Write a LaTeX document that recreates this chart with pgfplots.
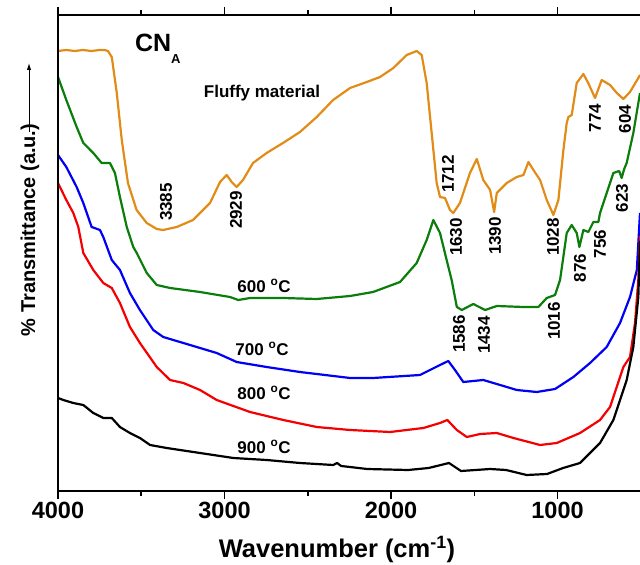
\documentclass[border=0pt]{standalone}
\usepackage{pgfplots}
\pgfplotsset{compat=1.18}
\usepackage{fontspec}
\setmainfont{Liberation Sans}
\usetikzlibrary{arrows.meta}
\definecolor{corange}{RGB}{226,140,24}
\definecolor{cgreen}{RGB}{10,125,10}
\definecolor{cblue}{RGB}{0,0,245}
\definecolor{cred}{RGB}{245,0,0}
\newcommand{\lab}{\fontsize{17bp}{17bp}\selectfont\bfseries}
\begin{document}
\begin{tikzpicture}
\useasboundingbox (0,0) rectangle (640bp,565bp);
\begin{axis}[
  at={(58bp,74bp)}, anchor=south west,
  width=582bp, height=476bp, scale only axis,
  xmin=505, xmax=4000, ymin=0, ymax=476,
  x dir=reverse,
  clip=false,
  axis line style={draw=none},
  xtick={1000,2000,3000,4000},
  minor xtick={1500,2500,3500},
  ytick=\empty,
  tick align=outside,
  major tick length=8bp, minor tick length=5bp,
  every tick/.style={line width=1.6bp, black},
  x tick label style={font=\fontsize{23.5bp}{23.5bp}\selectfont\bfseries},
  /pgf/number format/assume math mode=true,
  /pgf/number format/set thousands separator={},
  every axis plot/.append style={line width=2.2bp, line join=round, no markers},
]
% Fluffy material (orange)
\addplot[corange] coordinates {
(4000,440)(3950,441)(3900,440)(3850,441)(3800,440)(3750,441)(3720,441)(3700,440)(3677,434)(3647,398)(3617,351)(3580,308)(3528,281)(3467,268)(3407,262)(3369,261)(3287,264)(3189,271)(3087,288)(3027,309)(2987,316)(2957,309)(2927,304)(2889,311)(2829,328)(2747,338)(2649,348)(2547,359)(2446,374)(2348,391)(2246,403)(2146,409)(2066,414)(1986,423)(1906,436)(1846,440)(1816,436)(1786,408)(1756,358)(1726,308)(1706,294)(1676,293)(1646,281)(1626,278)(1586,288)(1526,318)(1485,332)(1446,311)(1405,301)(1381,279)(1365,298)(1305,308)(1245,314)(1205,316)(1175,329)(1145,321)(1105,311)(1065,291)(1025,276)(995,291)(965,341)(945,368)(935,374)(915,376)(885,408)(845,417)(816,408)(775,393)(735,411)(685,406)(644,398)(605,392)(565,399)(515,413)(505,416)
};
% 600 C (green)
\addplot[cgreen] coordinates {
(4000,414)(3950,391)(3888,364)(3848,348)(3788,338)(3738,328)(3688,328)(3658,318)(3628,294)(3587,264)(3548,244)(3527,238)(3467,218)(3407,206)(3327,203)(3147,199)(2967,194)(2917,191)(2847,193)(2649,193)(2446,192)(2246,195)(2108,199)(1946,209)(1846,228)(1786,251)(1746,271)(1706,258)(1666,231)(1636,211)(1605,184)(1575,181)(1506,187)(1435,181)(1365,185)(1205,184)(1115,184)(1065,193)(1015,196)(985,211)(945,258)(915,266)(885,258)(869,244)(845,261)(815,259)(785,269)(755,269)(745,278)(705,298)(665,318)(630,320)(615,313)(600,322)(585,328)(545,358)(505,398)
};
% 700 C (blue)
\addplot[cblue] coordinates {
(4000,336)(3950,324)(3888,304)(3848,288)(3798,264)(3748,261)(3728,254)(3677,231)(3628,221)(3568,198)(3508,181)(3428,161)(3368,154)(3207,146)(3047,138)(2927,129)(2747,124)(2547,119)(2246,113)(2108,113)(1826,116)(1706,126)(1656,130)(1616,121)(1566,109)(1446,111)(1345,106)(1245,101)(1125,99)(1015,102)(905,114)(805,128)(705,144)(625,168)(565,194)(524,221)(505,278)
};
% 800 C (red)
\addplot[cred] coordinates {
(4000,308)(3950,291)(3908,278)(3878,264)(3848,238)(3788,221)(3728,208)(3677,203)(3628,188)(3568,164)(3508,148)(3407,124)(3327,111)(3247,108)(3147,101)(3047,91)(2847,79)(2647,71)(2446,64)(2246,61)(2006,59)(1806,63)(1706,68)(1662,71)(1605,61)(1545,54)(1465,57)(1365,58)(1265,53)(1105,46)(1005,48)(865,58)(745,71)(685,84)(605,124)(565,134)(535,168)(515,211)(505,255)
};
% 900 C (black)
\addplot[black] coordinates {
(4000,93)(3968,91)(3908,88)(3848,86)(3788,78)(3728,73)(3677,73)(3628,64)(3568,58)(3508,53)(3447,46)(3347,43)(3147,38)(2947,33)(2747,31)(2547,28)(2347,26)(2324,28)(2300,25)(2246,24)(2144,22)(1898,21)(1774,23)(1652,28)(1580,20)(1405,22)(1309,21)(1186,16)(1063,17)(967,23)(865,28)(745,48)(665,71)(585,111)(545,144)(515,194)(505,250)
};
% frame (top, left, bottom)
\draw[line width=2bp, line cap=rect] (axis cs:505,476) -- (axis cs:4000,476) -- (axis cs:4000,0) -- (axis cs:505,0);
% labels
\node[anchor=base west, font=\fontsize{25bp}{25bp}\selectfont\bfseries, inner sep=0] at (axis cs:3538,439) {CN\raisebox{-0.45em}{\fontsize{13bp}{13bp}\selectfont A}};
\node[font=\lab] at (axis cs:2775,398) {Fluffy material};
\node[font=\lab, rotate=90] at (axis cs:3351,289) {3385};
\node[font=\lab, rotate=90] at (axis cs:2931,281) {2929};
\node[font=\lab, rotate=90] at (axis cs:1658,317) {1712};
\node[font=\lab, rotate=90] at (axis cs:1610,254) {1630};
\node[font=\lab, rotate=90] at (axis cs:1375,255) {1390};
\node[font=\lab, rotate=90] at (axis cs:1027,254) {1028};
\node[font=\lab, rotate=90] at (axis cs:775,373) {774};
\node[font=\lab, rotate=90] at (axis cs:595,372) {604};
\node[font=\lab, rotate=90] at (axis cs:613,293) {623};
\node[font=\lab, rotate=90] at (axis cs:745,247) {756};
\node[font=\lab, rotate=90] at (axis cs:865,223) {876};
\node[font=\lab, rotate=90] at (axis cs:1592,157) {1586};
\node[font=\lab, rotate=90] at (axis cs:1441,156) {1434};
\node[font=\lab, rotate=90] at (axis cs:1021,170) {1016};
\node[font=\lab] at (axis cs:2763,205) {600 \textsuperscript{o}C};
\node[font=\lab] at (axis cs:2775,142) {700 \textsuperscript{o}C};
\node[font=\lab] at (axis cs:2763,98) {800 \textsuperscript{o}C};
\node[font=\lab] at (axis cs:2763,44) {900 \textsuperscript{o}C};
\end{axis}
\node[anchor=base, font=\fontsize{25.5bp}{25.5bp}\selectfont\bfseries] at (337bp,8bp) {Wavenumber (cm\textsuperscript{-1})};
\node[rotate=90, font=\fontsize{20bp}{20bp}\selectfont\bfseries] at (30bp,335bp) {\% Transmittance (a.u.)};
\draw[line width=1bp, -{Latex[length=7bp,width=4.5bp]}] (29bp,433bp) -- (29bp,502bp);
\end{tikzpicture}
\end{document}
